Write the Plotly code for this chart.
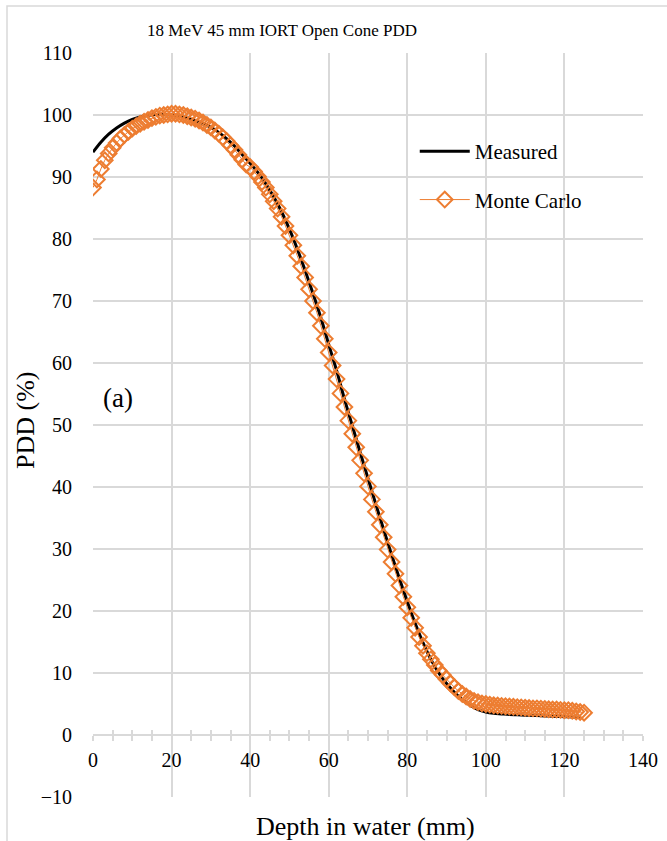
import plotly.graph_objects as go

# Depth-dose data, 18 MeV electron beam, 45 mm open IORT cone
measured_depth = list(range(0, 125, 2))
measured_pdd = [
    94.0, 95.6, 96.9, 97.9, 98.7, 99.3, 99.7, 99.95, 100.1, 100.1,
    100.0, 99.8, 99.5, 99.1, 98.6, 98.0, 97.2, 96.2, 95.0, 93.6,
    92.2, 90.7, 88.9, 86.8, 84.4, 81.6, 78.4, 74.9, 71.2, 67.3,
    63.0, 58.8, 54.2, 49.9, 45.6, 41.4, 37.2, 33.1, 29.1, 25.2,
    21.5, 18.0, 14.9, 12.2, 10.0, 8.3, 6.9, 5.7, 4.8, 4.1,
    3.7, 3.5, 3.4, 3.3, 3.25, 3.2, 3.15, 3.1, 3.05, 3.0,
    2.95, 2.9, 2.85,
]

mc_depth = list(range(0, 126))
mc_pdd = [
    88.3, 89.6, 91.3, 92.7, 93.8, 94.7, 95.5, 96.2, 96.8, 97.3,
    97.8, 98.2, 98.6, 98.9, 99.2, 99.5, 99.7, 99.9, 100.0, 100.1,
    100.2, 100.2, 100.1, 100.0, 99.8, 99.6, 99.4, 99.1, 98.8, 98.4,
    98.0, 97.5, 97.0, 96.4, 95.8, 95.1, 94.4, 93.6, 92.8, 92.0,
    91.6, 90.9, 90.1, 89.2, 88.3, 87.2, 86.1, 84.9, 83.6, 82.1,
    80.6, 79.0, 77.3, 75.6, 73.8, 71.9, 70.0, 68.1, 66.0, 63.9,
    61.7, 59.6, 57.4, 55.1, 52.9, 50.7, 48.6, 46.4, 44.3, 42.2,
    40.1, 38.0, 36.0, 33.9, 31.9, 29.9, 27.9, 26.0, 24.1, 22.3,
    20.6, 18.9, 17.3, 15.8, 14.4, 13.2, 12.2, 11.3, 10.4, 9.7,
    9.0, 8.3, 7.7, 7.1, 6.6, 6.2, 5.8, 5.5, 5.3, 5.1,
    5.0, 4.9, 4.8, 4.75, 4.7, 4.65, 4.6, 4.55, 4.5, 4.45,
    4.4, 4.35, 4.3, 4.3, 4.25, 4.2, 4.15, 4.1, 4.1, 4.05,
    4.0, 4.0, 3.9, 3.8, 3.7, 3.6,
]

x_ticks = [0, 20, 40, 60, 80, 100, 120, 140]
y_ticks = [-10, 0, 10, 20, 30, 40, 50, 60, 70, 80, 90, 100, 110]

SERIF = "Liberation Serif"
GRID = "#d9d9d9"
ORANGE = "#ED7D31"

fig = go.Figure()

fig.add_trace(go.Scatter(
    x=measured_depth, y=measured_pdd, name="Measured", mode="lines",
    line=dict(color="black", width=3, shape="spline"),
    legendgroup="a",
))
fig.add_trace(go.Scatter(
    x=mc_depth, y=mc_pdd, name="Monte Carlo", mode="lines+markers",
    line=dict(color=ORANGE, width=1),
    marker=dict(symbol="diamond-open", size=12, color=ORANGE,
                line=dict(color=ORANGE, width=2)),
    legendgroup="b",
))
# carrier trace for the overlaid axis that draws the upward half of the minor ticks
fig.add_trace(go.Scatter(
    x=measured_depth, y=measured_pdd, xaxis="x2", mode="lines",
    line=dict(width=0, color="rgba(0,0,0,0)"), showlegend=False,
    hoverinfo="skip",
))

zero_pos = 10 / 120  # y = 0 in the plot-area fraction

fig.update_layout(
    width=667, height=841,
    margin=dict(l=93, r=24, t=53, b=44, autoexpand=False),
    paper_bgcolor="white", plot_bgcolor="white",
    font=dict(family=SERIF, color="black", size=20),
    xaxis=dict(
        range=[0, 140], tickvals=x_ticks, ticktext=[str(v) for v in x_ticks],
        showgrid=True, gridcolor=GRID, gridwidth=1.5,
        zeroline=False, showline=True, linecolor=GRID, linewidth=1.5,
        anchor="free", position=zero_pos,
        ticks="outside", ticklen=5, tickcolor="rgba(0,0,0,0)",
        ticklabelstandoff=2,
        minor=dict(dtick=5, tick0=0, ticks="outside", ticklen=5,
                   tickcolor=GRID, tickwidth=1.5, showgrid=False),
        tickfont=dict(family=SERIF, size=20),
    ),
    xaxis2=dict(
        range=[0, 140], overlaying="x", anchor="free", position=zero_pos,
        showgrid=False, zeroline=False, showline=False,
        showticklabels=False, ticks="",
        minor=dict(dtick=5, tick0=0, ticks="inside", ticklen=5,
                   tickcolor=GRID, tickwidth=1.5, showgrid=False),
    ),
    yaxis=dict(
        range=[-10, 110], tickvals=y_ticks,
        showgrid=True, gridcolor=GRID, gridwidth=1.5,
        zeroline=False, showline=False, ticks="",
        ticklabelstandoff=20, tickfont=dict(family=SERIF, size=20),
    ),
    showlegend=True,
    legend=dict(
        x=0.585, y=0.895, xanchor="left", yanchor="top",
        bgcolor="rgba(255,255,255,0)", borderwidth=0,
        font=dict(family=SERIF, size=21),
        traceorder="grouped", tracegroupgap=18, itemwidth=50,
    ),
    title=dict(
        text="18 MeV 45 mm IORT Open Cone PDD",
        x=282 / 667, xanchor="center", y=1 - 30 / 841, yanchor="middle",
        xref="container", yref="container",
        font=dict(family=SERIF, size=17),
    ),
    shapes=[
        dict(type="rect", xref="paper", yref="paper",
             x0=-86 / 550, x1=1.2, y0=-0.2, y1=791 / 744,
             line=dict(color=GRID, width=1.5), layer="below"),
    ],
    annotations=[
        dict(text="Depth in water (mm)", xref="paper", yref="paper",
             x=(365 - 93) / 550, y=-29 / 744, xanchor="center", yanchor="middle",
             showarrow=False, font=dict(family=SERIF, size=26)),
        dict(text="PDD (%)", xref="paper", yref="paper",
             x=-68 / 550, y=(797 - 420) / 744, xanchor="center", yanchor="middle",
             textangle=-90, showarrow=False, font=dict(family=SERIF, size=26)),
        dict(text="(a)", xref="paper", yref="paper",
             x=(118 - 93) / 550, y=(797 - 398) / 744, xanchor="center", yanchor="middle",
             showarrow=False, font=dict(family=SERIF, size=27),
             bgcolor="white", borderpad=8),
    ],
)

fig.write_html("out.html")
